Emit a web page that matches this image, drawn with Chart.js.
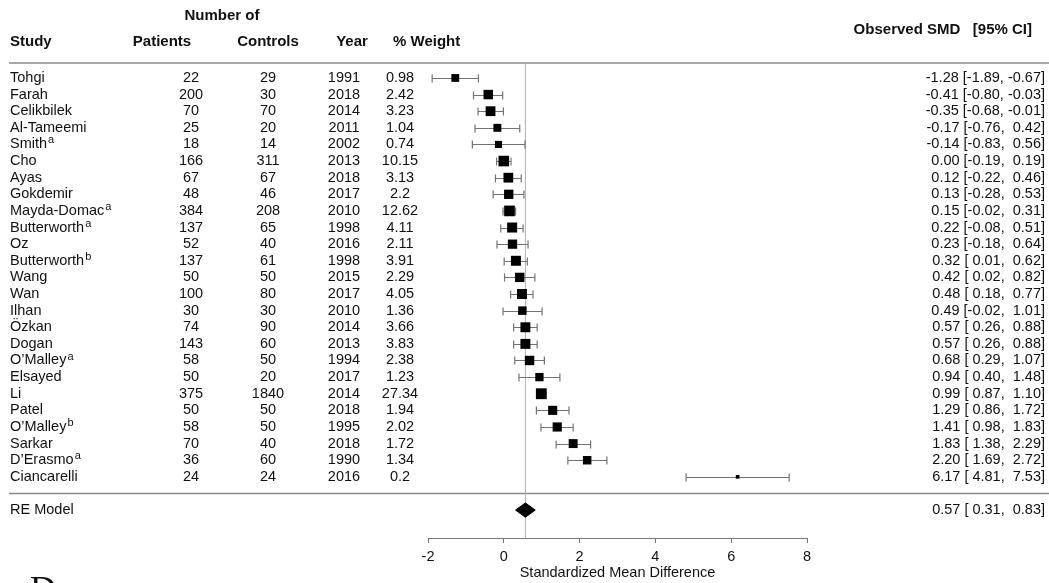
<!DOCTYPE html>
<html>
<head>
<meta charset="utf-8">
<script src="https://cdn.jsdelivr.net/npm/chart.js@4.4.0/dist/chart.umd.min.js"></script>
<style>
  body { margin: 0; background: #fff; }
  canvas { display: block; }
</style>
</head>
<body>
<canvas id="forest" width="1049" height="583"></canvas>
<script>
// ---------------- data ----------------
var studies = ['Tohgi', 'Farah', 'Celikbilek', 'Al-Tameemi', 'Smith', 'Cho', 'Ayas', 'Gokdemir',
  'Mayda-Domac', 'Butterworth', 'Oz', 'Butterworth', 'Wang', 'Wan', 'Ilhan', 'Özkan', 'Dogan',
  'O’Malley', 'Elsayed', 'Li', 'Patel', 'O’Malley', 'Sarkar', 'D’Erasmo', 'Ciancarelli'];
var notes = ['', '', '', '', 'a', '', '', '', 'a', 'a', '', 'b', '', '', '', '', '', 'a', '', '', '', 'b', '', 'a', ''];
var patients = [22, 200, 70, 25, 18, 166, 67, 48, 384, 137, 52, 137, 50, 100, 30, 74, 143, 58, 50, 375, 50, 58, 70, 36, 24];
var controls = [29, 30, 70, 20, 14, 311, 67, 46, 208, 65, 40, 61, 50, 80, 30, 90, 60, 50, 20, 1840, 50, 50, 40, 60, 24];
var years = [1991, 2018, 2014, 2011, 2002, 2013, 2018, 2017, 2010, 1998, 2016, 1998, 2015, 2017, 2010, 2014, 2013, 1994, 2017, 2014, 2018, 1995, 2018, 1990, 2016];
var weights = [0.98, 2.42, 3.23, 1.04, 0.74, 10.15, 3.13, 2.2, 12.62, 4.11, 2.11, 3.91, 2.29, 4.05, 1.36, 3.66, 3.83, 2.38, 1.23, 27.34, 1.94, 2.02, 1.72, 1.34, 0.2];
var smd = [-1.28, -0.41, -0.35, -0.17, -0.14, 0.00, 0.12, 0.13, 0.15, 0.22, 0.23, 0.32, 0.42, 0.48, 0.49, 0.57, 0.57, 0.68, 0.94, 0.99, 1.29, 1.41, 1.83, 2.20, 6.17];
var lower = [-1.89, -0.80, -0.68, -0.76, -0.83, -0.19, -0.22, -0.28, -0.02, -0.08, -0.18, 0.01, 0.02, 0.18, -0.02, 0.26, 0.26, 0.29, 0.40, 0.87, 0.86, 0.98, 1.38, 1.69, 4.81];
var upper = [-0.67, -0.03, -0.01, 0.42, 0.56, 0.19, 0.46, 0.53, 0.31, 0.51, 0.64, 0.62, 0.82, 0.77, 1.01, 0.88, 0.88, 1.07, 1.48, 1.10, 1.72, 1.83, 2.29, 2.72, 7.53];
var reEst = 0.57, reLower = 0.31, reUpper = 0.83;
var xTicks = [-2, 0, 2, 4, 6, 8];

var rows = studies.map(function (s, i) { return i + 1; });
var reRow = studies.length + 2;

var FONT = '"Liberation Sans", Arial, Helvetica, sans-serif';
var TEXT = '#111';

function fmt(v) { return (v < 0 ? '' : ' ') + v.toFixed(2); }
function ciText(e, lo, hi) { return e.toFixed(2) + ' [' + fmt(lo) + ', ' + fmt(hi) + ']'; }

// square side grows with weight but saturates, like the figure
function sideFor(w) { return 11 * w / (w + 0.4); }

//------------- drawing of table, whiskers, rules -----------------//
var forestPlugin = {
  id: 'forest',
  beforeDraw: function (chart) {
    var c = chart.ctx;
    c.save();
    c.fillStyle = '#fff';
    c.fillRect(0, 0, chart.width, chart.height);
    c.restore();
  },
  beforeDatasetsDraw: function (chart) {
    var c = chart.ctx, x = chart.scales.x, y = chart.scales.y, a = chart.chartArea;
    c.save();
    // rules
    c.strokeStyle = '#8c8c8c';
    c.lineWidth = 1.5;
    c.beginPath();
    c.moveTo(9, a.top); c.lineTo(chart.width, a.top);
    var sep = y.getPixelForValue(studies.length + 1);
    c.moveTo(9, sep); c.lineTo(chart.width, sep);
    c.stroke();
    // reference line at the pooled estimate
    c.strokeStyle = '#b0b0b0';
    c.lineWidth = 1;
    c.beginPath();
    c.moveTo(x.getPixelForValue(reEst), a.top);
    c.lineTo(x.getPixelForValue(reEst), a.bottom);
    c.stroke();
    // confidence intervals
    c.strokeStyle = '#737373';
    c.lineWidth = 1.2;
    c.beginPath();
    rows.forEach(function (r, i) {
      var py = Math.round(y.getPixelForValue(r)) + 0.5;
      var x0 = x.getPixelForValue(lower[i]), x1 = x.getPixelForValue(upper[i]);
      c.moveTo(x0, py); c.lineTo(x1, py);
      c.moveTo(x0, py - 4); c.lineTo(x0, py + 4);
      c.moveTo(x1, py - 4); c.lineTo(x1, py + 4);
    });
    c.stroke();
    c.restore();
  },
  afterDraw: function (chart) {
    var c = chart.ctx, y = chart.scales.y;
    var body = '14.5px ' + FONT;
    c.save();
    c.fillStyle = TEXT;
    c.textBaseline = 'middle';

    // headers
    c.font = 'bold 15px ' + FONT;
    c.textAlign = 'center';
    c.fillText('Number of', 222, 16);
    c.fillText('Patients', 162, 42);
    c.fillText('Controls', 268, 42);
    c.fillText('Year', 352, 42);
    c.textAlign = 'left';
    c.fillText('Study', 10, 42);
    c.fillText('% Weight', 393, 42);
    c.textAlign = 'right';
    c.fillText('Observed SMD   [95% CI]', 1032, 30);

    // rows
    c.font = body;
    rows.forEach(function (r, i) {
      var py = y.getPixelForValue(r);
      c.textAlign = 'left';
      c.fillText(studies[i], 10, py);
      if (notes[i]) {
        var w = c.measureText(studies[i]).width;
        c.font = '11px ' + FONT;
        c.fillText(notes[i], 10 + w + 1, py - 4);
        c.font = body;
      }
      c.textAlign = 'center';
      c.fillText(String(patients[i]), 191, py);
      c.fillText(String(controls[i]), 268, py);
      c.fillText(String(years[i]), 344, py);
      c.fillText(String(weights[i]), 400, py);
      c.textAlign = 'right';
      c.fillText(ciText(smd[i], lower[i], upper[i]), 1045, py);
    });

    var pr = y.getPixelForValue(reRow);
    c.textAlign = 'left';
    c.fillText('RE Model', 10, pr);
    c.textAlign = 'right';
    c.fillText(ciText(reEst, reLower, reUpper), 1045, pr);

    // panel letter, cut by the bottom edge
    c.textAlign = 'left';
    c.textBaseline = 'alphabetic';
    c.font = '36px "Liberation Serif", "Times New Roman", serif';
    c.fillText('D', 30, 601);
    c.restore();
  }
};

var ctx = document.getElementById('forest');
var myChart = new Chart(ctx, {
  type: 'scatter',
  plugins: [forestPlugin],
  data: {
    datasets: [{
      data: smd.map(function (v, i) { return { x: v, y: rows[i] }; }),
      pointStyle: 'rect',
      pointRadius: weights.map(function (w) { return sideFor(w) / Math.SQRT2; }),
      backgroundColor: '#000',
      borderColor: '#000',
      borderWidth: 0
    }, {
      // pooled estimate diamond
      data: [
        { x: reLower, y: reRow }, { x: reEst, y: reRow - 0.43 },
        { x: reUpper, y: reRow }, { x: reEst, y: reRow + 0.43 },
        { x: reLower, y: reRow }
      ],
      showLine: true,
      fill: 'shape',
      pointRadius: 0,
      borderColor: '#000',
      backgroundColor: '#000',
      borderWidth: 1
    }]
  },
  options: {
    responsive: false,
    animation: false,
    devicePixelRatio: 1,
    layout: { padding: { left: 428, right: 242, top: 63, bottom: 0 } },
    plugins: { legend: { display: false }, tooltip: { enabled: false } },
    scales: {
      x: {
        type: 'linear',
        min: -2,
        max: 8,
        afterFit: function (scale) { scale.height = 45; },
        afterBuildTicks: function (scale) { scale.ticks = xTicks.map(function (v) { return { value: v }; }); },
        grid: { drawOnChartArea: false, drawTicks: true, tickLength: 5, color: '#777', lineWidth: 1 },
        border: { display: true, color: '#777', width: 1 },
        ticks: { padding: 5, color: TEXT, font: { family: FONT, size: 14.5 }, maxRotation: 0 },
        title: {
          display: true,
          text: 'Standardized Mean Difference',
          color: TEXT,
          font: { family: FONT, size: 14.5, lineHeight: 1.2 },
          padding: { top: 0, bottom: 1 }
        }
      },
      y: {
        type: 'linear',
        display: false,
        reverse: true,
        min: 0.1,
        max: 28.68
      }
    }
  }
});
</script>
</body>
</html>
